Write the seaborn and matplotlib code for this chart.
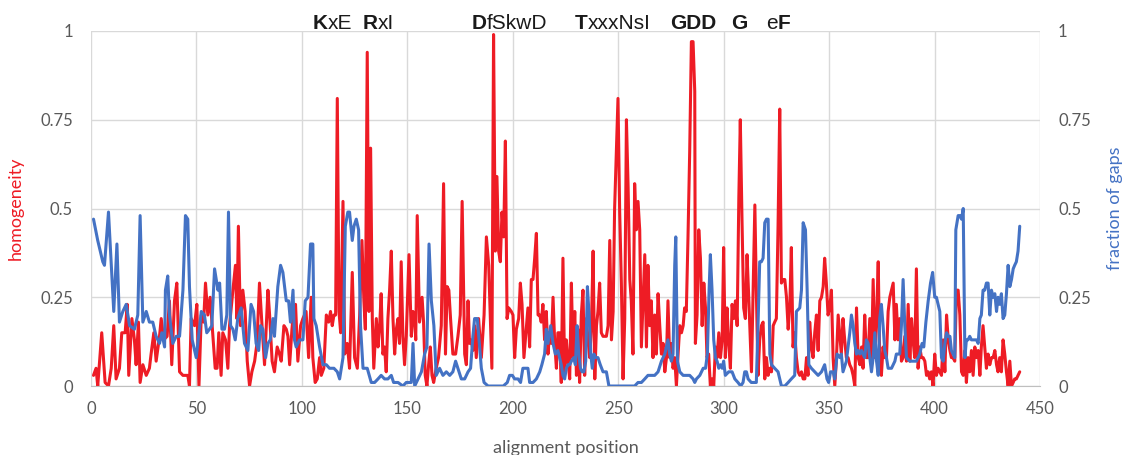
import matplotlib
matplotlib.use("Agg")
import matplotlib.pyplot as plt
import pandas as pd
import seaborn as sns

# homogeneity (red), position -> value
red_pos = [1.2, 2.4, 3.2, 5.1, 6.7, 8.3, 9.6, 10.8, 11.9, 13.5, 14.6, 16.2, 17.2, 17.9, 19.4, 20.6, 21.4, 22.5, 23.3, 24.6, 26.2, 27.7, 28.5, 29.8, 30.9, 32.5, 33.3, 34.5, 36.1, 37.2, 38.3, 39.6, 40.7, 42.0,
           43.6, 44.8, 45.9, 46.7, 47.5, 49.1, 50.2, 51.2, 52.3, 53.4, 54.3, 55.4, 56.5, 57.8, 58.9, 59.8, 60.6, 61.7, 62.5, 63.8, 64.9, 65.7, 67.3, 68.5, 69.2, 69.9, 70.9, 72.0, 73.1, 74.1, 75.2, 76.3, 77.6, 78.7, 79.9, 81.0, 82.3, 83.9, 84.7, 85.9, 87.0,
           88.3, 89.4, 90.2, 91.5, 92.6, 93.4, 94.2, 95.3, 96.2, 97.0, 98.1, 99.4, 100.5, 102.0, 103.2, 104.4, 105.2, 106.3, 107.3, 108.4, 109.2, 110.4, 111.6, 112.7, 113.6, 114.4, 115.2, 116.0, 116.8, 117.6, 118.4, 119.5, 120.3, 121.5, 122.6, 123.9, 125.0, 126.3, 127.4, 128.5, 129.4, 130.1, 131.0, 131.8, 132.6, 133.4, 134.1,
           135.3, 136.1, 136.9, 137.6, 138.4, 139.2, 140.0, 140.8, 141.6, 142.4, 143.2, 144.0, 144.8, 145.6, 146.3, 147.1, 147.9, 148.7, 149.5, 150.8, 151.9, 152.7, 153.5, 154.0, 154.7, 155.8, 157.0, 157.7, 158.5, 159.3, 160.1, 160.9, 161.7, 162.5, 163.7, 164.8, 166.1, 167.2, 168.1, 168.9, 169.7, 170.5, 171.6, 172.9, 174.0, 175.1, 176.0, 177.2,
           178.0, 178.8, 179.5, 180.3, 181.1, 181.9, 182.7, 183.8, 185.1, 186.4, 187.5, 188.6, 189.5, 190.1, 190.9, 191.7, 192.5, 193.3, 194.1, 194.9, 195.7, 196.5, 197.3, 198.1, 199.3, 200.1, 200.9, 201.7, 202.8, 203.6, 204.4, 205.3, 206.1, 207.2, 208.0, 208.8, 209.6, 210.4, 211.2, 212.0, 212.8, 213.5, 214.3, 215.1, 215.9, 216.7, 217.5, 218.3, 219.1, 219.9, 220.7, 221.4,
           222.2, 223.0, 223.8, 224.6, 225.4, 226.2, 227.0, 227.8, 228.6, 229.4, 230.2, 230.9, 231.7, 232.5, 233.3, 234.1, 234.9, 235.7, 236.5, 237.3, 238.1, 238.9, 239.7, 240.4, 241.2, 242.0, 242.8, 243.6, 244.4, 245.2, 246.0, 246.8, 247.6, 248.3, 249.1, 249.9, 250.7, 251.5, 252.3, 253.1, 253.9, 254.7, 255.5, 256.2, 257.0, 257.8, 258.6, 259.4, 260.2, 261.0, 261.8, 262.6, 263.4, 264.1, 264.9, 265.7, 266.5,
           267.3, 268.1, 268.9, 269.7, 270.5, 271.3, 272.1, 272.9, 273.6, 274.4, 275.2, 276.0, 276.8, 277.6, 278.4, 279.2, 280.0, 280.8, 281.5, 282.3, 283.1, 283.9, 284.7, 285.5, 286.3, 286.6, 287.4, 288.2, 289.0, 289.8, 290.6, 291.4, 292.1, 292.9, 293.7, 294.5, 295.3, 296.1, 296.9, 297.7, 298.5, 299.3, 300.0, 300.8, 301.6, 302.4, 303.2, 304.0, 304.8, 305.6, 306.4, 307.2, 307.9, 308.7, 309.5, 310.3, 311.1, 311.9,
           313.2, 314.0, 314.8, 315.5, 316.3, 317.1, 317.9, 318.7, 319.5, 320.3, 321.1, 321.9, 322.7, 323.5, 324.2, 325.0, 325.8, 326.6, 327.4, 328.2, 329.0, 329.8, 330.6, 331.4, 332.1, 332.9, 333.7, 334.5, 335.3, 336.1, 336.9, 337.7, 338.5, 339.3, 340.0, 340.8, 341.6, 342.4, 343.2, 344.0, 344.8, 345.6, 346.4, 347.2, 347.9, 348.7, 349.5, 350.3, 351.1, 351.9, 352.7, 353.5, 354.3, 355.1, 355.8, 356.6,
           357.4, 358.2, 359.0, 359.8, 360.6, 361.4, 362.2, 363.0, 363.8, 364.6, 365.4, 366.1, 366.9, 367.7, 368.5, 369.3, 370.1, 370.9, 371.7, 372.5, 373.3, 374.0, 374.8, 375.6, 376.4, 377.2, 378.0, 378.8, 379.6, 380.4, 381.2, 381.9, 382.7, 383.5, 384.3, 385.1, 385.9, 386.7, 387.5, 388.3, 389.1, 389.8, 390.6, 391.4, 392.2, 393.0, 393.8, 394.6, 395.4, 396.2, 397.0, 397.7, 398.5, 399.3, 400.1, 400.9, 401.7,
           402.5, 403.3, 404.1, 404.9, 405.7, 406.5, 407.3, 408.0, 408.8, 409.6, 410.4, 411.2, 412.0, 412.8, 413.6, 414.4, 415.1, 415.9, 416.7, 417.5, 418.3, 419.1, 419.9, 420.7, 421.5, 422.2, 423.0, 423.8, 424.6, 425.4, 426.2, 427.0, 427.8, 428.6, 429.4, 430.1, 430.9, 431.7, 432.5, 433.3, 434.1, 434.9, 435.7, 436.5, 437.3, 438.0, 438.8, 439.6, 440.4]
red_val = [0.03, 0.05, 0.0, 0.15, 0.01, 0.0, 0.05, 0.17, 0.02, 0.05, 0.15, 0.15, 0.23, 0.03, 0.19, 0.13, 0.06, 0.18, 0.01, 0.06, 0.03, 0.05, 0.09, 0.15, 0.07, 0.14, 0.19, 0.13, 0.14, 0.24, 0.06, 0.24, 0.29, 0.04,
           0.03, 0.03, 0.03, 0.0, 0.19, 0.17, 0.23, 0.0, 0.2, 0.18, 0.29, 0.2, 0.25, 0.14, 0.05, 0.05, 0.15, 0.03, 0.15, 0.13, 0.05, 0.17, 0.27, 0.34, 0.19, 0.45, 0.17, 0.27, 0.21, 0.07, 0.0, 0.04, 0.07, 0.12, 0.29, 0.18, 0.06, 0.27, 0.2, 0.07, 0.04,
           0.11, 0.09, 0.07, 0.17, 0.16, 0.14, 0.06, 0.16, 0.22, 0.23, 0.07, 0.17, 0.19, 0.21, 0.08, 0.25, 0.08, 0.01, 0.02, 0.08, 0.03, 0.05, 0.2, 0.18, 0.21, 0.17, 0.2, 0.2, 0.81, 0.21, 0.15, 0.52, 0.09, 0.12, 0.05, 0.32, 0.08, 0.05, 0.2, 0.41, 0.24, 0.16, 0.94, 0.21, 0.67, 0.19, 0.05,
           0.19, 0.11, 0.17, 0.26, 0.09, 0.11, 0.04, 0.19, 0.27, 0.38, 0.19, 0.09, 0.16, 0.19, 0.12, 0.35, 0.14, 0.06, 0.14, 0.37, 0.14, 0.21, 0.19, 0.13, 0.48, 0.18, 0.25, 0.18, 0.03, 0.0, 0.06, 0.11, 0.03, 0.01, 0.05, 0.08, 0.17, 0.57, 0.09, 0.28, 0.27, 0.19, 0.09, 0.09, 0.14, 0.2, 0.52, 0.09,
           0.06, 0.24, 0.12, 0.13, 0.1, 0.17, 0.08, 0.19, 0.08, 0.2, 0.42, 0.34, 0.17, 0.05, 0.99, 0.38, 0.59, 0.38, 0.35, 0.49, 0.42, 0.69, 0.19, 0.22, 0.21, 0.2, 0.08, 0.16, 0.19, 0.29, 0.23, 0.08, 0.14, 0.22, 0.11, 0.3, 0.3, 0.36, 0.43, 0.2, 0.2, 0.18, 0.23, 0.13, 0.21, 0.09, 0.15, 0.12, 0.25, 0.12, 0.05, 0.15,
           0.15, 0.01, 0.36, 0.04, 0.13, 0.07, 0.02, 0.29, 0.08, 0.21, 0.03, 0.16, 0.01, 0.2, 0.27, 0.03, 0.19, 0.13, 0.08, 0.17, 0.38, 0.02, 0.17, 0.21, 0.29, 0.15, 0.14, 0.14, 0.14, 0.17, 0.41, 0.13, 0.21, 0.5, 0.66, 0.81, 0.49, 0.29, 0.02, 0.19, 0.75, 0.56, 0.3, 0.24, 0.09, 0.57, 0.44, 0.52, 0.44, 0.11, 0.24, 0.37, 0.11, 0.34, 0.17, 0.24, 0.08,
           0.2, 0.09, 0.26, 0.17, 0.09, 0.12, 0.04, 0.08, 0.24, 0.08, 0.12, 0.05, 0.08, 0.0, 0.09, 0.17, 0.15, 0.17, 0.22, 0.21, 0.42, 0.66, 0.97, 0.97, 0.83, 0.12, 0.2, 0.44, 0.36, 0.17, 0.29, 0.22, 0.08, 0.09, 0.0, 0.02, 0.0, 0.11, 0.08, 0.15, 0.08, 0.13, 0.39, 0.08, 0.22, 0.12, 0.05, 0.23, 0.19, 0.24, 0.17, 0.53, 0.75, 0.47, 0.22, 0.19, 0.37, 0.25,
           0.04, 0.27, 0.51, 0.27, 0.03, 0.13, 0.17, 0.18, 0.02, 0.08, 0.03, 0.05, 0.04, 0.17, 0.18, 0.19, 0.45, 0.78, 0.29, 0.3, 0.3, 0.25, 0.16, 0.23, 0.39, 0.11, 0.15, 0.08, 0.04, 0.03, 0.04, 0.02, 0.02, 0.08, 0.03, 0.18, 0.11, 0.08, 0.15, 0.2, 0.1, 0.24, 0.25, 0.28, 0.36, 0.29, 0.2, 0.22, 0.27, 0.08, 0.0, 0.08, 0.2, 0.14, 0.09, 0.19,
           0.13, 0.08, 0.08, 0.06, 0.05, 0.03, 0.0, 0.22, 0.08, 0.06, 0.11, 0.05, 0.2, 0.08, 0.08, 0.19, 0.07, 0.3, 0.08, 0.19, 0.35, 0.08, 0.03, 0.11, 0.08, 0.08, 0.21, 0.25, 0.27, 0.29, 0.13, 0.23, 0.13, 0.19, 0.07, 0.08, 0.14, 0.07, 0.23, 0.07, 0.19, 0.13, 0.08, 0.33, 0.05, 0.11, 0.08, 0.08, 0.07, 0.03, 0.04, 0.02, 0.04, 0.0, 0.09, 0.03, 0.05,
           0.04, 0.03, 0.13, 0.04, 0.2, 0.13, 0.1, 0.08, 0.08, 0.07, 0.27, 0.27, 0.2, 0.04, 0.03, 0.1, 0.01, 0.08, 0.04, 0.1, 0.03, 0.11, 0.08, 0.1, 0.03, 0.11, 0.17, 0.11, 0.05, 0.09, 0.06, 0.08, 0.08, 0.1, 0.06, 0.04, 0.08, 0.04, 0.13, 0.09, 0.04, 0.0, 0.07, 0.0, 0.01, 0.02, 0.02, 0.03, 0.04]

# fraction of gaps (blue)
blue_pos = [1.2, 3.2, 5.6, 6.4, 8.3, 10.8, 12.3, 13.5, 15.1, 16.7, 18.3, 20.6, 22.2, 23.3, 24.6, 26.2, 27.7, 29.3, 30.9, 32.5, 33.6, 34.9, 35.3, 36.4, 37.2, 38.8, 40.4, 42.0,
            43.6, 44.8, 45.9, 46.7, 48.0, 49.9, 51.2, 52.3, 53.8, 54.9, 56.2, 57.3, 58.6, 60.2, 61.0, 62.1, 63.3, 64.4, 65.2, 66.2, 67.3, 68.4, 69.6, 71.2, 72.8, 74.4, 75.9, 77.1, 78.3, 79.5, 80.4, 81.5, 82.8, 83.9, 85.0, 86.3,
            87.0, 88.6, 89.9, 91.0, 92.6, 93.7, 94.6, 95.8, 96.5, 97.3, 98.9, 100.5, 101.6, 102.9, 104.1, 105.2, 105.7, 106.8, 108.4, 110.0, 111.6, 113.1, 115.2, 116.8, 117.9, 119.5, 120.6, 121.8, 122.6, 123.9, 124.7, 125.8, 126.9, 127.8, 129.0, 131.0, 132.9,
            134.5, 136.1, 137.6, 139.2, 140.8, 142.4, 143.5, 145.6, 147.9, 149.5, 151.9, 152.7, 153.5, 155.1, 156.7, 158.2, 159.3, 160.3, 161.4, 162.6, 163.7, 165.3, 166.9, 168.5, 170.1, 171.6, 172.9, 174.0, 175.6, 177.2,
            178.8, 180.0, 181.1, 181.9, 183.2, 184.0, 185.1, 186.4, 188.3, 190.7, 193.1, 195.5, 197.4, 198.5, 199.8, 200.9, 202.5, 203.7, 204.8, 206.4, 207.2, 208.0, 209.6, 211.2, 212.8, 213.8, 215.1, 215.9, 216.7, 218.0, 219.1, 220.2, 221.4,
            223.0, 223.8, 224.6, 225.4, 226.2, 227.0, 227.8, 228.9, 229.7, 230.5, 231.3, 232.1, 232.9, 233.7, 234.6, 235.4, 236.2, 237.0, 237.7, 238.5, 239.3, 240.4, 241.5, 242.8, 244.4, 245.6, 247.6, 249.9, 252.3, 255.5, 257.8, 259.4, 261.0, 262.6, 264.1, 265.7, 267.3, 268.9,
            270.5, 272.1, 273.6, 274.4, 275.2, 276.0, 276.8, 277.3, 278.1, 279.2, 280.8, 282.3, 283.9, 285.5, 286.3, 287.1, 288.7, 290.3, 291.4, 292.3, 293.1, 293.7, 294.5, 295.3, 296.1, 296.9, 297.7, 298.5, 299.3, 300.0, 300.8, 302.4, 304.0, 305.3, 306.8, 308.1, 309.2, 310.0, 310.8, 311.6, 313.1,
            314.0, 315.5, 316.3, 317.1, 317.9, 318.7, 319.5, 320.3, 321.1, 321.9, 322.7, 324.2, 325.8, 327.4, 329.0, 330.6, 332.1, 333.7, 334.5, 336.1, 336.9, 337.7, 338.8, 339.6, 340.4, 341.6, 343.2, 344.8, 346.4, 347.9, 349.0, 349.8, 350.7, 351.9, 352.7, 353.8, 355.1, 355.8, 356.6, 358.2,
            359.8, 360.6, 361.4, 362.2, 363.0, 363.8, 364.6, 365.4, 366.1, 366.9, 367.7, 368.5, 369.3, 370.1, 370.9, 371.7, 372.5, 373.3, 374.0, 374.8, 375.6, 376.4, 377.2, 378.0, 379.6, 381.2, 381.9, 382.7, 383.5, 384.3, 385.1, 385.9, 386.7, 388.3, 389.8, 391.4, 393.0, 394.1, 394.9, 395.9, 397.0, 398.1, 399.1, 400.1, 400.9, 401.7,
            402.5, 403.3, 404.1, 404.9, 405.7, 406.5, 407.3, 408.0, 408.8, 409.6, 410.1, 411.2, 412.0, 412.8, 413.6, 414.4, 415.1, 415.9, 416.7, 417.5, 418.3, 419.1, 419.9, 420.7, 421.5, 422.2, 423.0, 423.8, 424.6, 425.4, 426.2, 427.0, 427.8, 428.6, 429.4, 430.1, 430.9, 431.7, 432.5, 433.3, 434.1, 434.9, 435.7, 436.5, 437.3, 438.0, 438.8, 439.6, 440.4]
blue_val = [0.47, 0.41, 0.35, 0.34, 0.49, 0.21, 0.4, 0.18, 0.21, 0.23, 0.17, 0.16, 0.2, 0.48, 0.18, 0.21, 0.18, 0.18, 0.14, 0.12, 0.15, 0.11, 0.27, 0.31, 0.2, 0.12, 0.14, 0.14,
            0.27, 0.48, 0.47, 0.28, 0.13, 0.08, 0.15, 0.21, 0.2, 0.15, 0.16, 0.17, 0.33, 0.27, 0.29, 0.16, 0.16, 0.2, 0.49, 0.17, 0.16, 0.13, 0.19, 0.22, 0.12, 0.1, 0.23, 0.21, 0.12, 0.1, 0.17, 0.16, 0.08, 0.12, 0.13, 0.19,
            0.14, 0.28, 0.34, 0.32, 0.24, 0.24, 0.18, 0.27, 0.13, 0.11, 0.13, 0.13, 0.24, 0.25, 0.4, 0.4, 0.19, 0.17, 0.11, 0.06, 0.06, 0.05, 0.05, 0.04, 0.02, 0.08, 0.45, 0.49, 0.49, 0.41, 0.45, 0.47, 0.44, 0.17, 0.05, 0.05, 0.01,
            0.01, 0.02, 0.03, 0.02, 0.02, 0.03, 0.01, 0.01, 0.0, 0.01, 0.01, 0.12, 0.0, 0.02, 0.04, 0.09, 0.11, 0.4, 0.24, 0.17, 0.03, 0.05, 0.03, 0.04, 0.03, 0.04, 0.07, 0.05, 0.02, 0.02,
            0.04, 0.05, 0.14, 0.19, 0.19, 0.13, 0.05, 0.01, 0.0, 0.0, 0.0, 0.0, 0.01, 0.03, 0.03, 0.02, 0.02, 0.01, 0.05, 0.05, 0.05, 0.01, 0.01, 0.02, 0.04, 0.06, 0.09, 0.16, 0.12, 0.17, 0.12, 0.09, 0.1,
            0.06, 0.03, 0.02, 0.05, 0.06, 0.06, 0.07, 0.08, 0.06, 0.17, 0.09, 0.05, 0.04, 0.04, 0.07, 0.28, 0.2, 0.09, 0.05, 0.09, 0.08, 0.08, 0.06, 0.04, 0.04, 0.0, 0.0, 0.0, 0.0, 0.0, 0.0, 0.01, 0.01, 0.02, 0.03, 0.03, 0.03, 0.04,
            0.07, 0.09, 0.13, 0.09, 0.07, 0.09, 0.34, 0.42, 0.07, 0.04, 0.03, 0.03, 0.03, 0.02, 0.01, 0.02, 0.03, 0.05, 0.05, 0.09, 0.27, 0.37, 0.27, 0.13, 0.08, 0.07, 0.05, 0.06, 0.05, 0.07, 0.03, 0.04, 0.04, 0.02, 0.01, 0.0, 0.01, 0.04, 0.04, 0.02, 0.01,
            0.01, 0.01, 0.17, 0.35, 0.35, 0.36, 0.46, 0.47, 0.47, 0.09, 0.06, 0.05, 0.04, 0.0, 0.0, 0.01, 0.02, 0.03, 0.21, 0.22, 0.27, 0.46, 0.44, 0.27, 0.06, 0.05, 0.04, 0.03, 0.04, 0.06, 0.02, 0.01, 0.04, 0.04, 0.02, 0.09, 0.08, 0.09, 0.04, 0.07,
            0.15, 0.2, 0.17, 0.12, 0.09, 0.1, 0.09, 0.1, 0.09, 0.08, 0.13, 0.12, 0.08, 0.04, 0.08, 0.15, 0.07, 0.03, 0.19, 0.23, 0.17, 0.1, 0.08, 0.05, 0.05, 0.07, 0.09, 0.09, 0.09, 0.17, 0.3, 0.17, 0.08, 0.07, 0.07, 0.07, 0.09, 0.12, 0.11, 0.18, 0.24, 0.29, 0.32, 0.25, 0.25, 0.23,
            0.21, 0.08, 0.07, 0.12, 0.15, 0.14, 0.14, 0.1, 0.09, 0.08, 0.44, 0.48, 0.48, 0.47, 0.5, 0.08, 0.13, 0.13, 0.14, 0.13, 0.13, 0.13, 0.13, 0.12, 0.19, 0.2, 0.27, 0.27, 0.29, 0.29, 0.2, 0.27, 0.25, 0.26, 0.21, 0.25, 0.23, 0.26, 0.19, 0.2, 0.26, 0.34, 0.28, 0.3, 0.33, 0.34, 0.35, 0.38, 0.45]

assert len(red_pos) == len(red_val)
assert len(blue_pos) == len(blue_val)

# motif labels above the plot: start position, list of (text, bold)
motif_x = [105.2, 128.9, 180.4, 229.4, 274.4, 303.7, 320.3]
motif_parts = [[("K", True), ("xE", False)],
               [("R", True), ("xI", False)],
               [("D", True), ("fSkwD", False)],
               [("T", True), ("xxxNsI", False)],
               [("GDD", True)],
               [("G", True)],
               [("e", False), ("F", True)]]

x_ticks = [0, 50, 100, 150, 200, 250, 300, 350, 400, 450]
y_ticks = [0, 0.25, 0.5, 0.75, 1]
y_labels = ["0", "0.25", "0.5", "0.75", "1"]

RED = "#EE1C25"
BLUE = "#4472C4"
GREY = "#595959"

sns.set_style("white")
plt.rcParams['font.family'] = ['Lato', 'DejaVu Sans']

hom = pd.DataFrame({"position": red_pos, "homogeneity": red_val})
gaps = pd.DataFrame({"position": blue_pos, "gaps": blue_val})

fig, ax = plt.subplots(figsize=(11.26, 4.55), dpi=100)
fig.subplots_adjust(left=0.0808, right=0.9236, bottom=0.1516, top=0.9319)

sns.lineplot(data=hom, x="position", y="homogeneity", ax=ax, color=RED,
             lw=2.2, estimator=None, sort=False, solid_joinstyle="round")
ax2 = ax.twinx()
sns.lineplot(data=gaps, x="position", y="gaps", ax=ax2, color=BLUE,
             lw=2.2, estimator=None, sort=False, solid_joinstyle="round")

for a in (ax, ax2):
    a.set_xlim(0, 450)
    a.set_ylim(0, 1)
    a.set_yticks(y_ticks)
    a.set_yticklabels(y_labels)
    for s in a.spines.values():
        s.set_visible(False)
    a.tick_params(axis="y", length=0, labelsize=12, labelcolor=GREY, pad=13)

ax.set_xticks(x_ticks)
ax.grid(True, color="#d9d9d9", lw=1)
ax.set_axisbelow(True)
ax.spines["bottom"].set_visible(True)
ax.spines["bottom"].set_color("#bfbfbf")
ax.tick_params(axis="x", length=5, color="#bfbfbf", labelsize=12,
               labelcolor=GREY, pad=6)

ax.set_xlabel("alignment position", fontsize=13, color=GREY, labelpad=16)
ax.set_ylabel("homogeneity", fontsize=13, color=RED, labelpad=12)
ax2.set_ylabel("fraction of gaps", fontsize=13, color=BLUE, labelpad=12)

# motif annotations, bold pieces chained after one another
trans = ax.get_xaxis_transform()
for x, parts in zip(motif_x, motif_parts):
    prev = None
    for txt, bold in parts:
        w = "bold" if bold else "normal"
        if prev is None:
            prev = ax.text(x, 1.006, txt, transform=trans, ha="left",
                           va="baseline", fontsize=15, fontweight=w,
                           family="Liberation Sans", color="#1a1a1a")
        else:
            prev = ax.annotate(txt, xy=(1, 0), xycoords=prev, ha="left",
                               va="bottom", fontsize=15, fontweight=w,
                               family="Liberation Sans", color="#1a1a1a")

plt.savefig("out.png", dpi=100)
